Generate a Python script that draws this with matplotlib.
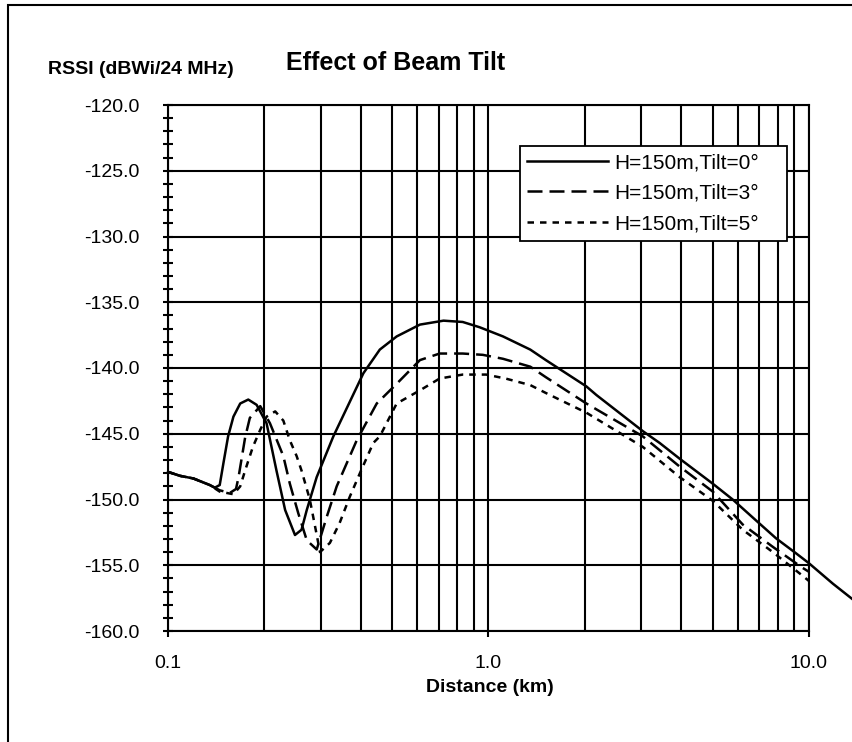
import matplotlib.pyplot as plt
from matplotlib.patches import Rectangle
from matplotlib.ticker import FixedLocator, MultipleLocator, LogLocator, NullFormatter

plt.rcParams['font.family'] = ['Liberation Sans', 'DejaVu Sans']

# distance (km) / RSSI (dBWi/24 MHz)
dist_t0 = [0.1, 0.109, 0.120, 0.135, 0.140, 0.145, 0.149, 0.154, 0.160, 0.168, 0.178,
           0.189, 0.203, 0.218, 0.232, 0.249, 0.261, 0.271, 0.291, 0.328, 0.407,
           0.458, 0.517, 0.611, 0.724, 0.831, 0.938, 1.11, 1.35, 1.51, 2.02, 2.17,
           3.03, 3.42, 3.95, 5.01, 5.78, 6.84, 7.89, 9.12, 10.0, 11.87, 13.7]
rssi_t0 = [-147.9, -148.2, -148.4, -148.9, -149.1, -148.9, -147.2, -145.2, -143.7,
           -142.7, -142.4, -142.8, -144.2, -147.8, -150.8, -152.7, -152.3, -150.8,
           -148.3, -145.2, -140.4, -138.6, -137.6, -136.7, -136.4, -136.5, -136.9,
           -137.6, -138.6, -139.4, -141.4, -142.05, -144.8, -145.7, -146.9, -148.8,
           -150.0, -151.6, -152.95, -154.1, -154.85, -156.4, -157.6]

dist_t3 = [0.1, 0.109, 0.120, 0.135, 0.145, 0.156, 0.163, 0.166, 0.174, 0.180, 0.194,
           0.208, 0.229, 0.240, 0.255, 0.271, 0.291, 0.313, 0.336, 0.388, 0.448,
           0.517, 0.611, 0.704, 0.831, 0.96, 1.11, 1.35, 1.51, 2.02, 3.03, 3.95,
           5.01, 6.21, 7.71, 9.55, 10.0]
rssi_t3 = [-147.9, -148.2, -148.4, -148.9, -149.3, -149.5, -149.2, -148.3, -145.3,
           -143.8, -142.9, -144.2, -146.7, -148.8, -151.05, -153.1, -153.8, -151.3,
           -149.0, -145.5, -142.7, -141.2, -139.4, -138.9, -138.9, -139.0, -139.3,
           -139.9, -140.7, -142.7, -145.2, -147.5, -149.4, -151.9, -153.6, -155.2,
           -155.5]

dist_t5 = [0.1, 0.109, 0.120, 0.135, 0.145, 0.160, 0.168, 0.174, 0.184, 0.194, 0.203,
           0.216, 0.229, 0.240, 0.252, 0.261, 0.277, 0.289, 0.298, 0.320, 0.343,
           0.369, 0.397, 0.437, 0.458, 0.517, 0.611, 0.704, 0.831, 0.983, 1.13,
           1.35, 1.51, 2.02, 3.03, 3.95, 5.01, 6.21, 7.71, 9.55, 10.0]
rssi_t5 = [-147.9, -148.2, -148.4, -148.9, -149.4, -149.6, -149.0, -147.8, -146.0,
           -144.7, -143.7, -143.3, -144.0, -145.5, -146.7, -147.8, -150.0, -152.3,
           -154.0, -153.3, -151.8, -149.8, -148.0, -145.7, -145.2, -142.7, -141.7,
           -140.8, -140.5, -140.5, -140.8, -141.3, -141.9, -143.4, -146.0, -148.3,
           -150.1, -152.3, -154.0, -155.8, -156.2]

labels = ['H=150m,Tilt=0°', 'H=150m,Tilt=3°', 'H=150m,Tilt=5°']
x_ticks = [0.1, 1.0, 10.0]
x_ticklabels = ['0.1', '1.0', '10.0']
y_ticks = [-160, -155, -150, -145, -140, -135, -130, -125, -120]

W, H = 853, 742
fig = plt.figure(figsize=(W / 100, H / 100), dpi=100)
ax = fig.add_axes([168 / W, 1 - 631 / H, 641 / W, 526 / H])

lw = 1.8
ax.plot(dist_t0, rssi_t0, color='black', lw=lw, label=labels[0], clip_on=False, zorder=5)
ax.plot(dist_t3, rssi_t3, color='black', lw=lw, dashes=(6, 2.8), label=labels[1], zorder=5)
ax.plot(dist_t5, rssi_t5, color='black', lw=lw, dashes=(2.6, 2.4), label=labels[2], zorder=5)

ax.set_xscale('log')
ax.set_xlim(0.1, 10)
ax.set_ylim(-160, -120)

ax.xaxis.set_major_locator(FixedLocator(x_ticks))
ax.set_xticklabels(x_ticklabels)
ax.xaxis.set_minor_locator(LogLocator(base=10, subs=range(2, 10)))
ax.xaxis.set_minor_formatter(NullFormatter())
ax.yaxis.set_major_locator(FixedLocator(y_ticks))
ax.set_yticklabels([f'{v:.1f}' for v in y_ticks])
ax.yaxis.set_minor_locator(MultipleLocator(1))

ax.grid(which='both', axis='x', color='black', lw=1.5)
ax.grid(which='major', axis='y', color='black', lw=1.5)
ax.set_axisbelow(True)
for s in ax.spines.values():
    s.set_linewidth(1.5)

ax.tick_params(axis='y', which='both', direction='inout', length=6.5, width=1.5,
               labelsize=14, pad=17.5)
ax.tick_params(axis='x', which='major', direction='out', length=4.5, width=1.5,
               labelsize=14, pad=12.5)
ax.tick_params(axis='x', which='minor', length=0)

# legend box spans x 520..787 px, top at 146 px
leg = ax.legend(loc='upper left', bbox_to_anchor=(0.549, 0.922, 0.4165, 0),
                mode='expand', fontsize=15, handlelength=3.9, fancybox=False,
                framealpha=1, edgecolor='black', borderpad=0.35, labelspacing=0.55,
                handletextpad=0.3, borderaxespad=0)
leg.get_frame().set_linewidth(1.3)
leg.set_zorder(10)

fig.text(48 / W, 1 - 70 / H, 'RSSI (dBWi/24 MHz)', fontsize=14, fontweight='bold',
         ha='left', va='center')
fig.text(396 / W, 1 - 63 / H, 'Effect of Beam Tilt', fontsize=18, fontweight='bold',
         ha='center', va='center')
fig.text(490 / W, 1 - 688 / H, 'Distance (km)', fontsize=14, fontweight='bold',
         ha='center', va='center')

fig.add_artist(Rectangle((8 / W, -0.05), 1.2, 1.05 - 5 / H, transform=fig.transFigure,
                         fill=False, edgecolor='black', lw=1.5))

fig.savefig('out.png', dpi=100)
